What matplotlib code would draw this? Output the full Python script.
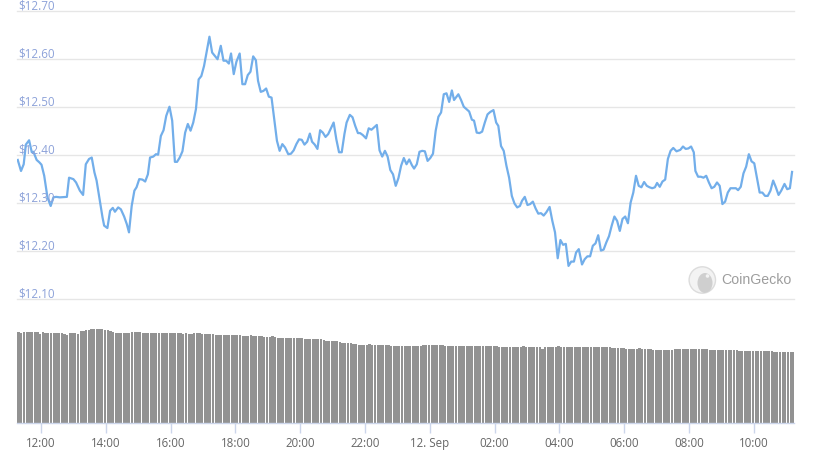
import matplotlib
matplotlib.use('Agg')
import matplotlib.pyplot as plt
import matplotlib.dates as mdates
import matplotlib.transforms as mtransforms
from matplotlib.patches import Circle, Ellipse
from matplotlib.ticker import FuncFormatter
import pandas as pd

START = pd.Timestamp('2021-09-11 12:00')

# price, minutes from 11 Sep 12:00
price_minutes = [
    -43, -37, -32, -28, -22, -17, -14, -8, -3, 1, 6, 12, 18, 23, 28, 35, 48, 52, 60, 65,
    72, 78, 83, 89, 94, 99, 103, 109, 114, 117, 123, 128, 133, 137, 143, 148, 154, 159,
    163, 168, 173, 177, 182, 188, 193, 198, 202, 208, 213, 217, 222, 227, 232, 238, 243,
    248, 252, 257, 262, 267, 272, 277, 282, 287, 292, 297, 302, 307, 312, 317, 322, 327,
    333, 338, 343, 348, 352, 357, 362,
    368, 373, 378, 383, 388, 393, 398, 402, 407, 412, 417, 422, 427, 432, 437, 442, 447,
    452, 458, 463, 468, 473, 478, 483, 488, 493, 498, 502, 507, 512, 517, 522, 527, 532,
    537, 542, 547, 552, 557, 562, 566,
    572, 577, 582, 587, 591, 596, 602, 607, 612, 617, 622, 627, 632, 637, 642, 647, 652,
    657, 662, 667, 672, 677, 682, 687, 691, 696, 701, 706, 711, 716, 721, 726, 731, 736,
    741, 746, 751, 756, 761, 765,
    773, 778, 783, 788, 793, 798, 802, 807, 812, 817, 822, 827, 832, 838, 843, 847, 852,
    857, 862, 867, 872, 877, 882, 887, 891, 896, 901, 906, 911, 916, 921, 926, 931, 936,
    942, 947, 952, 957, 962, 967, 972,
    977, 982, 987, 991, 996, 1002, 1007, 1012, 1017, 1022, 1027, 1032, 1037, 1042, 1047,
    1052, 1057, 1062, 1067, 1072, 1077, 1082, 1087, 1092, 1097, 1102, 1107, 1112, 1117,
    1122, 1127, 1132, 1137, 1141, 1146, 1151, 1156, 1161, 1166, 1171, 1177,
    1184, 1189, 1194, 1199, 1204, 1209, 1212, 1217, 1222, 1227, 1232, 1237, 1242, 1247,
    1252, 1257, 1262, 1267, 1272, 1277, 1282, 1287, 1291, 1296, 1301, 1306, 1311, 1316,
    1321, 1326, 1331, 1336, 1341, 1346, 1351, 1356, 1361, 1366, 1371, 1377, 1382, 1387, 1391,
]
prices = [
    12.390, 12.367, 12.381, 12.422, 12.431, 12.406, 12.407, 12.390, 12.385, 12.380, 12.357,
    12.312, 12.294, 12.312, 12.313, 12.312, 12.313, 12.353, 12.350, 12.343, 12.326, 12.317,
    12.381, 12.392, 12.395, 12.364, 12.347, 12.305, 12.270, 12.253, 12.248, 12.284, 12.290,
    12.282, 12.291, 12.287, 12.272, 12.256,
    12.239, 12.294, 12.326, 12.333, 12.350, 12.349, 12.345, 12.360, 12.395, 12.397, 12.402,
    12.401, 12.440, 12.452, 12.482, 12.501, 12.472, 12.386, 12.386, 12.395, 12.408, 12.447,
    12.465, 12.451, 12.468, 12.496, 12.558, 12.565, 12.586, 12.617, 12.647, 12.614, 12.607,
    12.600, 12.628, 12.597, 12.597, 12.591, 12.612, 12.569, 12.595,
    12.612, 12.548, 12.548, 12.567, 12.574, 12.606, 12.598, 12.555, 12.532, 12.534, 12.539,
    12.522, 12.520, 12.475, 12.430, 12.409, 12.423, 12.416, 12.402, 12.403, 12.410, 12.423,
    12.433, 12.432, 12.422, 12.428, 12.445, 12.428, 12.422, 12.413, 12.452, 12.447, 12.438,
    12.444, 12.456, 12.468, 12.433, 12.406, 12.406, 12.444, 12.468,
    12.484, 12.479, 12.461, 12.446, 12.446, 12.442, 12.435, 12.456, 12.453, 12.458, 12.463,
    12.410, 12.397, 12.409, 12.397, 12.369, 12.360, 12.336, 12.352, 12.378, 12.394, 12.381,
    12.391, 12.379, 12.372, 12.381, 12.407, 12.409, 12.408, 12.388, 12.394, 12.403, 12.451,
    12.480, 12.489, 12.527, 12.529, 12.511, 12.535, 12.515,
    12.527, 12.515, 12.501, 12.496, 12.491, 12.474, 12.472, 12.447, 12.446, 12.449, 12.468,
    12.485, 12.490, 12.494, 12.468, 12.461, 12.419, 12.409, 12.378, 12.353, 12.315, 12.299,
    12.291, 12.294, 12.305, 12.313, 12.296, 12.298, 12.303, 12.289, 12.278, 12.279, 12.274,
    12.281, 12.292, 12.263, 12.239, 12.185, 12.223, 12.213, 12.215,
    12.169, 12.178, 12.178, 12.197, 12.204, 12.172, 12.183, 12.189, 12.189, 12.211, 12.216,
    12.233, 12.201, 12.203, 12.218, 12.231, 12.253, 12.272, 12.263, 12.242, 12.267, 12.272,
    12.258, 12.301, 12.322, 12.357, 12.336, 12.333, 12.344, 12.336, 12.333, 12.331, 12.333,
    12.342, 12.334, 12.345, 12.349, 12.392, 12.409, 12.415, 12.408,
    12.411, 12.418, 12.413, 12.414, 12.418, 12.406, 12.367, 12.355, 12.355, 12.353, 12.357,
    12.343, 12.331, 12.334, 12.343, 12.336, 12.298, 12.303, 12.322, 12.331, 12.331, 12.331,
    12.327, 12.334, 12.362, 12.376, 12.402, 12.387, 12.383, 12.353, 12.322, 12.322, 12.315,
    12.315, 12.326, 12.347, 12.333, 12.317, 12.326, 12.340, 12.329, 12.331, 12.365,
]

# 24h volume, one bar every 5 minutes (arbitrary units)
VOL_START = pd.Timestamp('2021-09-11 11:16:30')
volume = [
    90.7, 89.3, 90.7, 90.7, 90.7, 90.7, 90.7, 90.7, 88.7, 90.7, 90.0, 90.0,
    90.0, 90.0, 89.3, 90.0, 89.3, 88.7, 87.7, 89.7, 89.7, 89.3, 88.7, 91.7,
    91.7, 92.7, 92.7, 93.7, 93.7, 93.7, 93.7, 93.7, 92.7, 92.7, 91.7, 90.3,
    89.7, 89.7, 89.7, 89.7, 89.7, 89.7, 90.7, 90.7, 90.7, 90.3, 90.0, 89.7,
    89.7, 89.7, 89.7, 89.7, 89.7, 89.7, 89.7, 89.7, 89.7, 89.7, 89.7, 89.7,
    89.7, 88.7, 89.7, 89.0, 88.7, 89.3, 89.3, 89.3, 88.7, 88.7, 88.7, 88.7,
    88.7, 87.7, 87.7, 87.7, 87.7, 87.7, 87.7, 87.7, 87.7, 87.7, 87.7, 87.0,
    86.7, 86.7, 87.7, 87.0, 86.7, 86.7, 86.7, 86.0, 85.7, 86.0, 86.3, 85.7,
    84.7, 84.7, 84.7, 84.7, 84.7, 84.7, 84.7, 84.7, 84.7, 84.7, 83.7, 83.7,
    83.7, 83.7, 83.7, 83.7, 83.7, 82.7, 81.7, 81.7, 81.7, 81.7, 81.7, 81.0,
    80.0, 80.0, 79.7, 79.3, 78.7, 78.3, 78.0, 77.3, 77.7, 78.0, 78.7, 78.0,
    77.7, 77.7, 77.7, 77.7, 77.3, 77.3, 77.0, 77.0, 76.7, 76.7, 77.0, 77.0,
    77.0, 77.0, 77.0, 77.0, 77.0, 77.0, 77.7, 77.7, 78.0, 78.0, 78.0, 77.7,
    77.7, 77.7, 77.0, 77.0, 77.0, 77.0, 77.0, 77.0, 77.0, 77.0, 77.0, 77.0,
    77.0, 77.0, 76.7, 76.7, 76.7, 76.7, 76.7, 76.7, 76.7, 76.7, 75.7, 75.7,
    75.7, 75.7, 75.7, 75.7, 75.7, 75.7, 75.7, 76.7, 75.3, 75.3, 75.3, 75.3,
    75.3, 75.3, 73.7, 75.7, 75.7, 75.7, 75.7, 75.7, 76.7, 75.7, 75.7, 75.7,
    75.7, 75.7, 75.7, 75.7, 76.0, 76.0, 76.0, 76.0, 76.0, 75.3, 75.3, 75.3,
    75.3, 75.3, 75.3, 75.3, 74.3, 74.3, 74.3, 74.3, 74.3, 73.3, 73.3, 73.3,
    73.3, 73.3, 74.3, 73.3, 73.3, 73.3, 73.3, 72.7, 72.7, 72.7, 72.7, 72.7,
    72.7, 72.7, 72.7, 73.3, 73.3, 73.3, 73.3, 73.3, 73.3, 73.3, 73.3, 73.3,
    73.3, 73.3, 73.3, 73.3, 72.7, 72.7, 72.7, 72.7, 72.7, 72.7, 72.7, 72.7,
    72.7, 72.7, 72.7, 72.0, 72.0, 72.0, 72.0, 72.0, 72.0, 71.3, 71.3, 71.3,
    71.3, 71.3, 71.3, 71.3, 70.7, 70.7, 70.7, 70.7, 70.7, 70.7, 70.7, 70.7,
]

price_ticks = [12.10, 12.20, 12.30, 12.40, 12.50, 12.60, 12.70]

LINE_COLOR = '#72aeea'
LABEL_COLOR = '#8da2d9'
AXIS_COLOR = '#ccd6eb'

t_price = mdates.date2num((START + pd.to_timedelta(price_minutes, unit='min')).to_pydatetime())
t_vol = mdates.date2num(pd.date_range(VOL_START, periods=len(volume), freq='5min').to_pydatetime())

W, H = 821, 458


def box(x0, y0, x1, y1):
    return [x0 / W, 1 - y1 / H, (x1 - x0) / W, (y1 - y0) / H]


fig = plt.figure(figsize=(W / 100, H / 100), dpi=100)
ax = fig.add_axes(box(17, 11.3, 794, 299))
axv = fig.add_axes(box(17, 310, 794, 423))

x0 = mdates.date2num(START - pd.Timedelta(minutes=44.4))
x1 = mdates.date2num(START + pd.Timedelta(minutes=1394.6))

# price panel
ax.plot(t_price, prices, color=LINE_COLOR, lw=1.6, solid_joinstyle='round', zorder=3)
for v in price_ticks:
    ax.axhline(v, color='#e6e6e6', lw=1, zorder=0, clip_on=False)
trans = mtransforms.offset_copy(
    mtransforms.blended_transform_factory(ax.transAxes, ax.transData),
    fig=fig, x=1, y=1.5, units='dots')
for v in price_ticks:
    ax.text(0, v, '$%.2f' % v, transform=trans, color=LABEL_COLOR, fontsize=8.4,
            family='Open Sans', va='baseline', ha='left')
ax.set_xlim(x0, x1)
ax.set_ylim(12.10, 12.70)
ax.axis('off')

# volume panel
axv.bar(t_vol, volume, width=0.84 * 5 / 1440, align='edge', color='#929292', lw=0)
axv.set_xlim(x0, x1)
axv.set_ylim(0, max(volume) * 1.2)
for s in ['top', 'left', 'right']:
    axv.spines[s].set_visible(False)
axv.spines['bottom'].set_color(AXIS_COLOR)
axv.spines['bottom'].set_linewidth(1)
axv.set_yticks([])
axv.xaxis.set_major_locator(mdates.HourLocator(byhour=range(0, 24, 2)))


def fmt(x, pos):
    d = mdates.num2date(x)
    if d.hour == 0:
        return d.strftime('%d. %b')
    return d.strftime('%H:%M')


axv.xaxis.set_major_formatter(FuncFormatter(fmt))
axv.tick_params(axis='x', length=7, width=1, color=AXIS_COLOR, pad=3,
                labelsize=8.3, labelcolor='#666666')
for lab in axv.get_xticklabels():
    lab.set_family('Open Sans')

# CoinGecko watermark
logo = Circle((7.023, (H - 280) / 100), 0.132, transform=fig.dpi_scale_trans,
              facecolor='#f3f3f3', edgecolor='#dcdcdc', lw=1)
fig.add_artist(logo)
head = Ellipse((7.05, (H - 283) / 100), 0.15, 0.2, transform=fig.dpi_scale_trans,
               facecolor='#cfcfcf', edgecolor='none')
fig.add_artist(head)
head.set_clip_path(logo)
fig.add_artist(Circle((7.075, (H - 276) / 100), 0.018, transform=fig.dpi_scale_trans,
                      facecolor='#f3f3f3', edgecolor='none'))
fig.text(721 / W, 1 - 280 / H, 'CoinGecko', fontsize=10.2, color='#9d9d9d',
         family='Liberation Sans', va='center', ha='left')

fig.savefig('out.png', dpi=100)
